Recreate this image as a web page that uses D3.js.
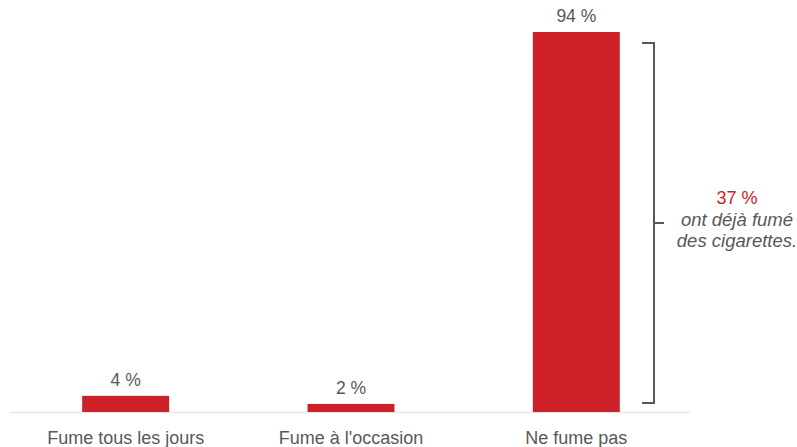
<!DOCTYPE html>
<html>
<head>
<meta charset="utf-8">
<script src="https://cdn.jsdelivr.net/npm/d3@7"></script>
<style>
  html, body { margin: 0; padding: 0; background: #fff; }
  svg { display: block; }
  text { font-family: "Liberation Sans", Arial, sans-serif; }
</style>
</head>
<body>
<svg id="chart" width="797" height="447"></svg>
<script>
// Smoking status shares (%)
const categories = ["Fume tous les jours", "Fume à l'occasion", "Ne fume pas"];
const values = [4, 2, 94];
const valueLabels = ["4 %", "2 %", "94 %"];

// Annotation on the non-smoker bar
const everSmokedValue = "37 %";
const everSmokedLines = ["ont déjà fumé", "des cigarettes."];

const svg = d3.select("#chart");
const baseY = 412;

const x = d3.scaleBand()
  .domain(categories)
  .range([13, 689])
  .paddingInner(0.614)
  .paddingOuter(0.307);

const y = d3.scaleLinear()
  .domain([0, 94])
  .range([baseY, 32]);

const red = "#cd2028";
const grey = "#585858";

// baseline
svg.append("line")
  .attr("x1", 10).attr("x2", 690)
  .attr("y1", baseY + 0.5).attr("y2", baseY + 0.5)
  .attr("stroke", "#e6e6e6").attr("stroke-width", 1.5);

// bars
svg.selectAll("rect.bar")
  .data(values)
  .join("rect")
  .attr("class", "bar")
  .attr("x", (d, i) => x(categories[i]))
  .attr("width", x.bandwidth())
  .attr("y", d => y(d))
  .attr("height", d => baseY - y(d))
  .attr("fill", red);

// value labels
svg.selectAll("text.val")
  .data(values)
  .join("text")
  .attr("class", "val")
  .attr("x", (d, i) => x(categories[i]) + x.bandwidth() / 2)
  .attr("y", d => y(d) - 10)
  .attr("text-anchor", "middle")
  .attr("font-size", 17.5)
  .attr("fill", grey)
  .text((d, i) => valueLabels[i]);

// category axis labels
const xAxis = d3.axisBottom(x).tickSize(0).tickPadding(0);
const gx = svg.append("g")
  .attr("transform", `translate(0, ${baseY})`)
  .call(xAxis);
gx.select(".domain").remove();
gx.selectAll("text")
  .attr("y", 32)
  .attr("dy", 0)
  .attr("font-size", 18)
  .attr("fill", grey)
  .style("font-family", "\"Liberation Sans\", Arial, sans-serif");

// bracket beside the non-smoker bar
const bx = 654;
const bTop = y(94) + 11, bBot = y(0) - 9;
const bMid = (bTop + bBot) / 2;
const bracket = d3.path();
bracket.moveTo(bx - 12, bTop);
bracket.lineTo(bx, bTop);
bracket.lineTo(bx, bBot);
bracket.lineTo(bx - 12, bBot);
bracket.moveTo(bx, bMid);
bracket.lineTo(bx + 10, bMid);
svg.append("path")
  .attr("d", bracket.toString())
  .attr("fill", "none")
  .attr("stroke", grey)
  .attr("stroke-width", 2);

// annotation text
const ax = 737;
svg.append("text")
  .attr("x", ax).attr("y", bMid - 19)
  .attr("text-anchor", "middle")
  .attr("font-size", 18)
  .attr("fill", red)
  .text(everSmokedValue);
svg.selectAll("text.note")
  .data(everSmokedLines)
  .join("text")
  .attr("class", "note")
  .attr("x", ax)
  .attr("y", (d, i) => bMid + 3 + i * 20.5)
  .attr("text-anchor", "middle")
  .attr("font-size", 18.5)
  .attr("font-style", "italic")
  .attr("fill", grey)
  .text(d => d);
</script>
</body>
</html>
